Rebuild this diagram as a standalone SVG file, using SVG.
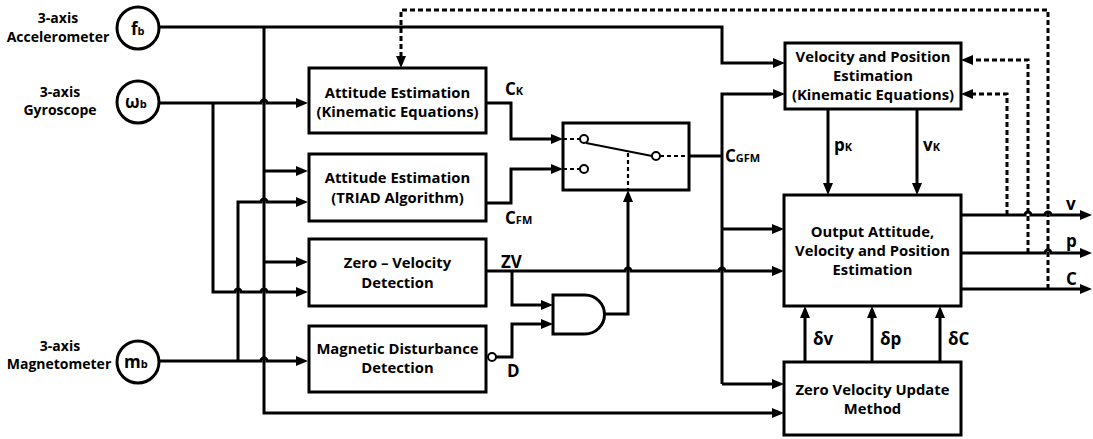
<svg xmlns="http://www.w3.org/2000/svg" width="1093" height="439" viewBox="0 0 1093 439">
<style>
text{font-family:"Open Sans","Liberation Sans",sans-serif;font-weight:bold;fill:#000}
.t{font-size:14px;text-anchor:middle}
.bt{font-size:14.8px;text-anchor:middle}
.l{font-size:17px}
.s{font-size:11px}
.box{fill:#fff;stroke:#000;stroke-width:3}
.c{fill:none;stroke:#000;stroke-width:3}
.a{marker-end:url(#ar)}
.d{fill:none;stroke:#000;stroke-width:3;stroke-dasharray:5 3}
.sd{fill:none;stroke:#000;stroke-width:2.2;stroke-dasharray:4 3}
</style>
<defs>
<marker id="ar" markerUnits="userSpaceOnUse" markerWidth="12" markerHeight="10" refX="4" refY="5" orient="auto">
<path d="M0,0 L12,5 L0,10 z" fill="#000"/>
</marker>
</defs>
<rect width="1093" height="439" fill="#fff"/>

<g id="sensor-acc">
<circle cx="138" cy="28" r="21" class="box"/>
<text x="131" y="35" class="l">f<tspan class="s">b</tspan></text>
<text x="58" y="23" class="t">3-axis</text>
<text x="58" y="42" class="t">Accelerometer</text>
</g>
<g id="sensor-gyro">
<circle cx="138" cy="102" r="21" class="box"/>
<text x="125" y="108" class="l">ω<tspan class="s">b</tspan></text>
<text x="60" y="97" class="t">3-axis</text>
<text x="60" y="115" class="t">Gyroscope</text>
</g>
<g id="sensor-mag">
<circle cx="138" cy="362" r="21" class="box"/>
<text x="124" y="368" class="l">m<tspan class="s">b</tspan></text>
<text x="60" y="351" class="t">3-axis</text>
<text x="59" y="369" class="t">Magnetometer</text>
</g>

<g id="connectors">
<path class="c a" d="M160,27 H722 V63 H777"/>
<path class="c a" d="M264,27 V413 H776"/>
<path class="c a" d="M264,171 H300"/>
<path class="c a" d="M264,262 H300"/>
<path class="c a" d="M160,103 H261 A3,3 0 0 1 267,103 H300"/>
<path class="c a" d="M213,103 V292 H235 A3,3 0 0 1 241,292 H261 A3,3 0 0 1 267,292 H300"/>
<path class="c a" d="M160,361 H261 A3,3 0 0 1 267,361 H300"/>
<path class="c a" d="M238,361 V202 H261 A3,3 0 0 1 267,202 H300"/>
<path class="c a" d="M486,103 H511 V139 H555"/>
<path class="c a" d="M486,203 H511 V169 H555"/>
<path class="c" d="M689,156 H722"/>
<path class="c a" d="M722,384 V94 H777"/>
<path class="c a" d="M722,229 H776"/>
<path class="c a" d="M722,384 H776"/>
<path class="c a" d="M828,109 V187"/>
<path class="c a" d="M917,109 V187"/>
<path class="c a" d="M486,271 H625 A3,3 0 0 1 631,271 H719 A3,3 0 0 1 725,271 H776"/>
<path class="c a" d="M512,271 V305 H545"/>
<path class="c a" d="M496,357 H512 V324 H545"/>
<path class="c a" d="M605,314 H628 V198"/>
<path class="c a" d="M961,215 H1025 A3,3 0 0 1 1031,215 H1045 A3,3 0 0 1 1051,215 H1084"/>
<path class="c a" d="M961,253 H1045 A3,3 0 0 1 1051,253 H1084"/>
<path class="c a" d="M961,289 H1084"/>
<path class="c a" d="M805,362 V314"/>
<path class="c a" d="M872,362 V314"/>
<path class="c a" d="M940,362 V314"/>
<path class="d a" d="M1048,289 V10 H401 V60"/>
<path class="d a" d="M1028,253 V60 H969"/>
<path class="d a" d="M1007,215 V94 H969"/>
</g>

<g id="att-kin">
<rect x="309" y="68" width="177" height="65" class="box"/>
<text x="397.5" y="98" class="bt">Attitude Estimation</text>
<text x="397.5" y="117" class="bt">(Kinematic Equations)</text>
</g>
<g id="att-triad">
<rect x="309" y="154" width="177" height="67" class="box"/>
<text x="397.5" y="183" class="bt">Attitude Estimation</text>
<text x="397.5" y="203" class="bt">(TRIAD Algorithm)</text>
</g>
<g id="zv-det">
<rect x="309" y="239" width="177" height="67" class="box"/>
<text x="397.5" y="268" class="bt">Zero – Velocity</text>
<text x="397.5" y="288" class="bt">Detection</text>
</g>
<g id="mag-det">
<rect x="309" y="326" width="177" height="66" class="box"/>
<text x="397.5" y="354" class="bt">Magnetic Disturbance</text>
<text x="397.5" y="373" class="bt">Detection</text>
<circle cx="492" cy="357" r="4" fill="#fff" stroke="#000" stroke-width="2"/>
</g>
<g id="switch">
<rect x="563" y="123" width="126" height="67" class="box"/>
<path class="sd" d="M563,139 H580 M563,169 H580 M660,156 H689 M628,153 V190"/>
<path d="M586,143 L652,156" stroke="#000" stroke-width="2" fill="none"/>
<circle cx="584" cy="139" r="4" fill="#fff" stroke="#000" stroke-width="2"/>
<circle cx="584" cy="169" r="4" fill="#fff" stroke="#000" stroke-width="2"/>
<circle cx="656" cy="156" r="4" fill="#fff" stroke="#000" stroke-width="2"/>
</g>
<g id="and-gate">
<path d="M553,295 H585 A19.5,19.5 0 0 1 585,334 H553 Z" fill="#fff" stroke="#000" stroke-width="3"/>
</g>
<g id="vel-pos">
<rect x="785" y="43" width="176" height="66" class="box"/>
<text x="873" y="62" class="bt">Velocity and Position</text>
<text x="873" y="81" class="bt">Estimation</text>
<text x="873" y="100" class="bt">(Kinematic Equations)</text>
</g>
<g id="output">
<rect x="784" y="195" width="177" height="111" class="box"/>
<text x="872.5" y="237" class="bt">Output Attitude,</text>
<text x="872.5" y="256" class="bt">Velocity and Position</text>
<text x="872.5" y="275" class="bt">Estimation</text>
</g>
<g id="zvu">
<rect x="784" y="362" width="177" height="73" class="box"/>
<text x="872.5" y="395" class="bt">Zero Velocity Update</text>
<text x="872.5" y="414" class="bt">Method</text>
</g>

<g id="labels">
<text x="505" y="95" class="l">C<tspan class="s">K</tspan></text>
<text x="505" y="224" class="l">C<tspan class="s">FM</tspan></text>
<text x="725" y="162" class="l">C<tspan class="s">GFM</tspan></text>
<text x="834" y="151" class="l">p<tspan class="s">K</tspan></text>
<text x="923" y="151" class="l">v<tspan class="s">K</tspan></text>
<text x="501" y="268" class="l">ZV</text>
<text x="507" y="377" class="l">D</text>
<text x="813" y="345" class="l">δv</text>
<text x="880" y="345" class="l">δp</text>
<text x="948" y="345" class="l">δC</text>
<text x="1066" y="210" class="l">v</text>
<text x="1066" y="247" class="l">p</text>
<text x="1066" y="285" class="l">C</text>
</g>
</svg>
